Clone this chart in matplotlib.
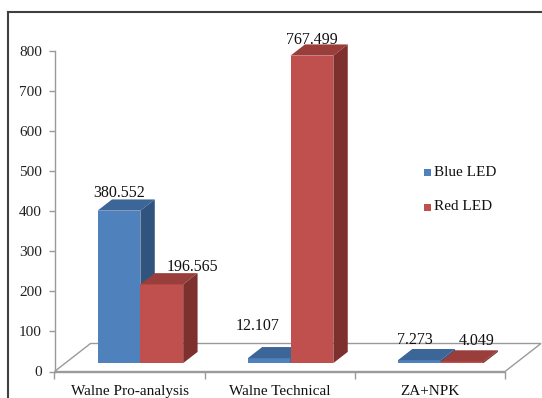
import matplotlib
matplotlib.use("Agg")
import matplotlib.pyplot as plt
from matplotlib.patches import Polygon, Rectangle
from matplotlib.lines import Line2D

# ---- data ----
categories = ["Walne Pro-analysis", "Walne Technical", "ZA+NPK"]
series_names = ["Blue LED", "Red LED"]
blue_led = [380.552, 12.107, 7.273]
red_led = [196.565, 767.499, 4.049]
y_ticks = [0, 100, 200, 300, 400, 500, 600, 700, 800]

plt.rcParams["font.family"] = ["Liberation Serif", "DejaVu Serif"]

W, H, DPI = 542, 398, 100
fig = plt.figure(figsize=(W / DPI, H / DPI), dpi=DPI)

# axes placement in pixels (from top-left)
ax_left, ax_right = 54.5, 505.0
ax_top, ax_bottom = 51.0, 371.5
ax = fig.add_axes([ax_left / W, (H - ax_bottom) / H,
                   (ax_right - ax_left) / W, (ax_bottom - ax_top) / H])
ax.set_xlim(-0.5, 2.5)
ax.set_ylim(0, 800)

px_x = (ax_right - ax_left) / 3.0       # pixels per x unit
px_y = (ax_bottom - ax_top) / 800.0     # pixels per value unit

# oblique depth of the floor, in data units
depth_dx = 36 / px_x
depth_dy = 28 / px_y

def off(d):
    return d * depth_dx, d * depth_dy

grid_gray = "#9a9a9a"

# floor outline (back, left and right edges; front edge is the x axis)
fx0, fx1 = -0.5, 2.5
bdx, bdy = off(1.0)
floor = Polygon([(fx0, 0), (fx1, 0), (fx1 + bdx, bdy), (fx0 + bdx, bdy)],
                closed=True, facecolor="white", edgecolor=grid_gray,
                linewidth=1.0, clip_on=False, zorder=1)
ax.add_patch(floor)

colors = {
    "Blue LED": ("#4f81bd", "#3c6698", "#31547f"),
    "Red LED": ("#c0504d", "#9a3e3b", "#7e302e"),
}

bar_w = 0.285
front_d, back_d = 0.3, 0.7
fdx, fdy = off(front_d)
sdx = (back_d - front_d) * depth_dx
sdy = (back_d - front_d) * depth_dy

# per-label nudges in pixels (x, y) relative to the bar's top-back edge
label_nudge = {
    ("Blue LED", 0): (0, 2), ("Red LED", 0): (31, 2),
    ("Blue LED", 1): (-12, 17), ("Red LED", 1): (0, 0),
    ("Blue LED", 2): (-4, 5), ("Red LED", 2): (15, 5),
}

values = {"Blue LED": blue_led, "Red LED": red_led}
z = 2
for i in range(len(categories)):
    for j, name in enumerate(series_names):
        v = values[name][i]
        x0 = i - bar_w + j * bar_w + fdx
        x1 = x0 + bar_w
        y0 = fdy
        y1 = fdy + v
        front_c, top_c, side_c = colors[name]
        ax.add_patch(Polygon([(x0, y0), (x1, y0), (x1, y1), (x0, y1)],
                             closed=True, facecolor=front_c, edgecolor="none",
                             clip_on=False, zorder=z))
        ax.add_patch(Polygon([(x0, y1), (x1, y1), (x1 + sdx, y1 + sdy), (x0 + sdx, y1 + sdy)],
                             closed=True, facecolor=top_c, edgecolor="none",
                             clip_on=False, zorder=z))
        ax.add_patch(Polygon([(x1, y0), (x1 + sdx, y0 + sdy), (x1 + sdx, y1 + sdy), (x1, y1)],
                             closed=True, facecolor=side_c, edgecolor="none",
                             clip_on=False, zorder=z))
        z += 1
        nx, ny = label_nudge[(name, i)]
        ax.annotate(f"{v:.3f}", xy=((x0 + x1) / 2, y1 + sdy),
                    xytext=(nx, ny), textcoords="offset pixels",
                    ha="center", va="baseline", fontsize=11.5,
                    color="#111111", zorder=20, annotation_clip=False)

# axes styling
for s in ("top", "right"):
    ax.spines[s].set_visible(False)
for s in ("left", "bottom"):
    ax.spines[s].set_color(grid_gray)
    ax.spines[s].set_linewidth(1.0)
ax.spines["bottom"].set_zorder(1.5)
ax.patch.set_visible(False)

ax.set_yticks(y_ticks)
ax.set_yticklabels([str(t) for t in y_ticks])
ax.tick_params(axis="y", direction="out", length=4, width=1.0,
               color=grid_gray, labelsize=11, labelcolor="#222222", pad=5)

ax.set_xticks([-0.5, 0.5, 1.5, 2.5])
ax.set_xticklabels([])
ax.set_xticks(range(len(categories)), minor=True)
ax.set_xticklabels(categories, minor=True)
ax.tick_params(axis="x", which="major", direction="out", length=5,
               width=1.0, color=grid_gray)
ax.tick_params(axis="x", which="minor", length=0, labelsize=11,
               labelcolor="#111111", pad=9.5)

# legend
leg_x = 424
for k, (name, yc) in enumerate(zip(series_names, [172, 207])):
    sq = 7
    fig.patches.append(Rectangle((leg_x / W, (H - yc - sq / 2) / H), sq / W, sq / H,
                                 transform=fig.transFigure, facecolor=colors[name][0],
                                 edgecolor="none", figure=fig))
    fig.text((leg_x + 10) / W, (H - yc) / H, name, ha="left", va="center",
             fontsize=11, color="#111111")

# outer chart frame
frame_c = "#404040"
fig.add_artist(Line2D([8 / W, 1.0], [(H - 12) / H, (H - 12) / H],
                      transform=fig.transFigure, color=frame_c, linewidth=1.5))
fig.add_artist(Line2D([8 / W, 8 / W], [0.0, (H - 12) / H],
                      transform=fig.transFigure, color=frame_c, linewidth=1.5))

fig.savefig("out.png", dpi=DPI)
